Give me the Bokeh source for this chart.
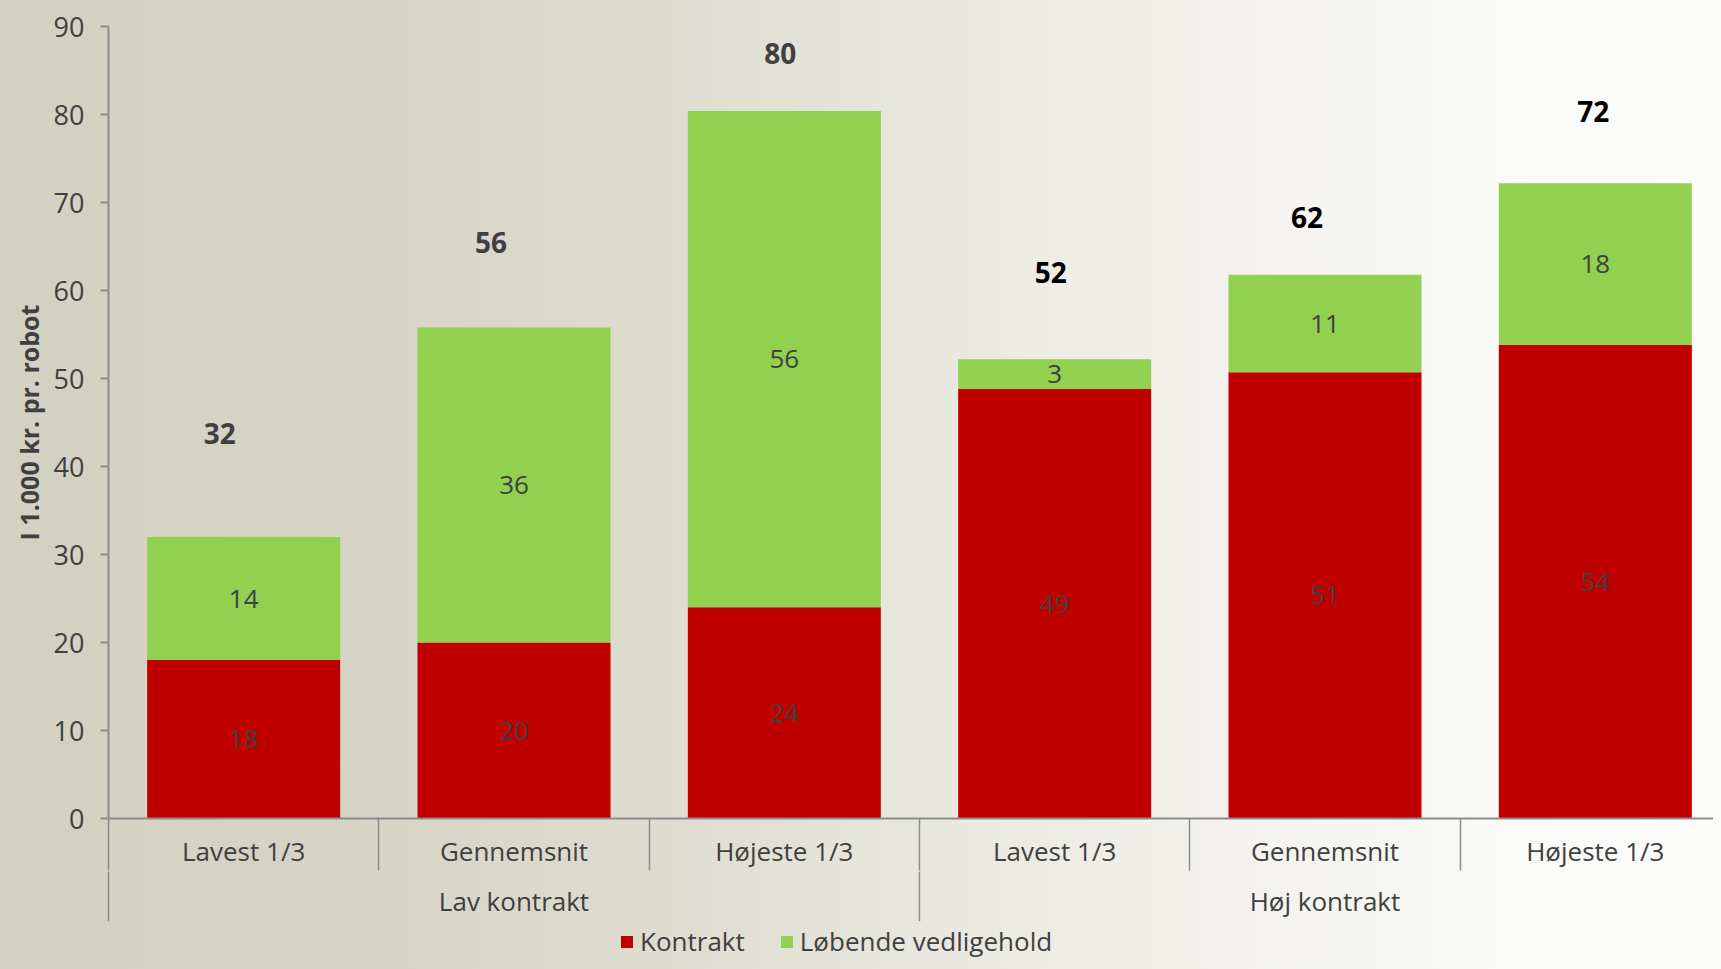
from bokeh.plotting import figure
from bokeh.layouts import column
from bokeh.models import (ColumnDataSource, FixedTicker, LinearAxis, Legend,
                          LegendItem, Range1d)
from bokeh.core.properties import value
from bokeh.embed import file_html
from bokeh.resources import INLINE

# ---------------- data ----------------
groups = ["Lav kontrakt", "Høj kontrakt"]
categories = ["Lavest 1/3", "Gennemsnit", "Højeste 1/3",
              "Lavest 1/3", "Gennemsnit", "Højeste 1/3"]
kontrakt = [18.0, 20.0, 24.0, 48.8, 50.7, 53.8]
loebende = [14.0, 35.8, 56.4, 3.4, 11.1, 18.4]
y_ticks = [0, 10, 20, 30, 40, 50, 60, 70, 80, 90]
series_names = ["Kontrakt", "Løbende vedligehold"]
y_title = "I 1.000 kr. pr. robot"

# ---------------- layout / style ----------------
RED = "#C00000"
GREEN = "#92D050"
TXT = "#404040"
AXIS = "#8c8c8c"
FONT = "Open Sans"
BAR_W = 0.714
total_lift = [11.8, 9.6, 6.5, 9.8, 6.5, 8.1]
total_shift = [-24, -23, -4, -4, -18, -2]
total_colors = [TXT, TXT, TXT, "#000000", "#000000", "#000000"]

n = len(categories)
per_group = n // len(groups)
xs = [i + 0.5 for i in range(n)]
group_x = [g * per_group + per_group / 2 for g in range(len(groups))]
totals = [k + l for k, l in zip(kontrakt, loebende)]

src = ColumnDataSource(dict(
    x=xs,
    k=kontrakt,
    t=totals,
    k_mid=[k / 2 for k in kontrakt],
    l_mid=[k + l / 2 for k, l in zip(kontrakt, loebende)],
    k_lbl=[f"{round(k)}" for k in kontrakt],
    l_lbl=[f"{round(l)}" for l in loebende],
    t_lbl=[f"{round(t)}" for t in totals],
    t_y=[t + d for t, d in zip(totals, total_lift)],
    t_dx=total_shift,
    t_col=total_colors,
))

W = 1705
TOP, FRAME_H, BOTTOM = 18, 792, 103
H_MAIN = TOP + FRAME_H + BOTTOM
H_LEG = 953 - H_MAIN

p = figure(width=W, height=H_MAIN, output_backend="svg", toolbar_location=None,
           x_range=Range1d(0, 1606 / 270.5), y_range=Range1d(0, 90),
           min_border_left=99, min_border_right=0, min_border_top=TOP,
           min_border_bottom=BOTTOM)
p.background_fill_color = None
p.border_fill_color = None
p.outline_line_color = None
p.xgrid.visible = False
p.ygrid.visible = False

r1 = p.vbar(x="x", bottom=0, top="k", width=BAR_W, source=src,
            fill_color=RED, line_color=None)
r2 = p.vbar(x="x", bottom="k", top="t", width=BAR_W, source=src,
            fill_color=GREEN, line_color=None)

seg_kw = dict(text_font=value(FONT), text_font_size=value("26px"),
              text_color=TXT, text_align="center", text_baseline="middle")
p.text(x="x", y="k_mid", text="k_lbl", source=src, **seg_kw)
p.text(x="x", y="l_mid", text="l_lbl", source=src, **seg_kw)
p.text(x="x", y="t_y", text="t_lbl", x_offset="t_dx", source=src,
       text_font=value(FONT), text_font_size=value("28px"),
       text_font_style="bold", text_color="t_col",
       text_align="center", text_baseline="middle")

# y axis
ya = p.yaxis[0]
ya.ticker = FixedTicker(ticks=y_ticks)
ya.axis_label = y_title
ya.axis_label_text_font = FONT
ya.axis_label_text_font_size = "25px"
ya.axis_label_text_font_style = "bold"
ya.axis_label_text_color = TXT
ya.axis_label_standoff = 5
ya.major_label_text_font = FONT
ya.major_label_text_font_size = "27px"
ya.major_label_text_color = TXT
ya.major_label_standoff = 16
ya.axis_line_color = AXIS
ya.axis_line_width = 2
ya.major_tick_line_color = AXIS
ya.major_tick_line_width = 2
ya.major_tick_out = 8
ya.major_tick_in = 0
ya.minor_tick_line_color = None

SEP_A, SEP_B = 52, 50
# x axis A: category labels + separators between categories
xa = p.xaxis[0]
xa.ticker = FixedTicker(ticks=xs, minor_ticks=list(range(n + 1)))
xa.major_label_overrides = {x: c for x, c in zip(xs, categories)}
xa.major_label_text_font = FONT
xa.major_label_text_font_size = "26px"
xa.major_label_text_color = TXT
xa.major_label_standoff = 14 - SEP_A
xa.axis_line_color = AXIS
xa.axis_line_width = 2
xa.major_tick_line_color = None
xa.major_tick_out = 0
xa.major_tick_in = 0
xa.minor_tick_line_color = AXIS
xa.minor_tick_line_width = 1.5
xa.minor_tick_out = SEP_A
xa.minor_tick_in = 0

# x axis B: group labels + separators between groups
xb = LinearAxis(ticker=FixedTicker(ticks=group_x,
                                   minor_ticks=list(range(0, n + 1, per_group))))
xb.major_label_overrides = {x: g for x, g in zip(group_x, groups)}
xb.major_label_text_font = FONT
xb.major_label_text_font_size = "26px"
xb.major_label_text_color = TXT
xb.major_label_standoff = 11 - SEP_B
xb.axis_line_color = None
xb.major_tick_line_color = None
xb.major_tick_out = 0
xb.major_tick_in = 0
xb.minor_tick_line_color = AXIS
xb.minor_tick_line_width = 1.5
xb.minor_tick_out = SEP_B
xb.minor_tick_in = 0
p.add_layout(xb, "below")

# legend strip underneath (frames of the column are aligned)
pl = figure(width=W, height=H_LEG, output_backend="svg", toolbar_location=None,
            x_axis_type=None, y_axis_type=None, min_border=0,
            x_range=Range1d(0, 1), y_range=Range1d(0, 1))
pl.background_fill_color = None
pl.border_fill_color = None
pl.outline_line_color = None
# zero-height proxies that only provide the legend swatches
proxy = ColumnDataSource(dict(x=[0.5], top=[0.0]))
lr1 = pl.vbar(x="x", top="top", bottom="top", width=0.01, source=proxy,
              fill_color=RED, line_color=None)
lr2 = pl.vbar(x="x", top="top", bottom="top", width=0.01, source=proxy,
              fill_color=GREEN, line_color=None)

legend = Legend(items=[LegendItem(label=series_names[0], renderers=[lr1]),
                       LegendItem(label=series_names[1], renderers=[lr2])],
                orientation="horizontal", location=(511, 0))
legend.label_text_font = FONT
legend.label_text_font_size = "26px"
legend.label_text_color = TXT
legend.label_height = H_LEG
legend.glyph_width = 15
legend.glyph_height = 15
legend.label_standoff = 6
legend.spacing = 34
legend.padding = 0
legend.margin = 0
legend.background_fill_alpha = 0
legend.border_line_color = None
pl.add_layout(legend)

layout = column(p, pl, spacing=0)

GRAD = ("linear-gradient(to right,#d3d1c1 0%,#d6d4c5 20%,#dedccf 38%,"
        "#e9e8e0 55%,#f3f2ee 72%,#fafaf8 88%,#fcfcfb 100%)")
html = file_html(layout, INLINE)
html = html.replace(
    "</head>",
    "<style>html,body{margin:0;padding:0;min-height:100%;background:" + GRAD +
    " !important;} body{padding:8px !important;box-sizing:border-box;}</style></head>", 1)
open("out.html", "w").write(html)
